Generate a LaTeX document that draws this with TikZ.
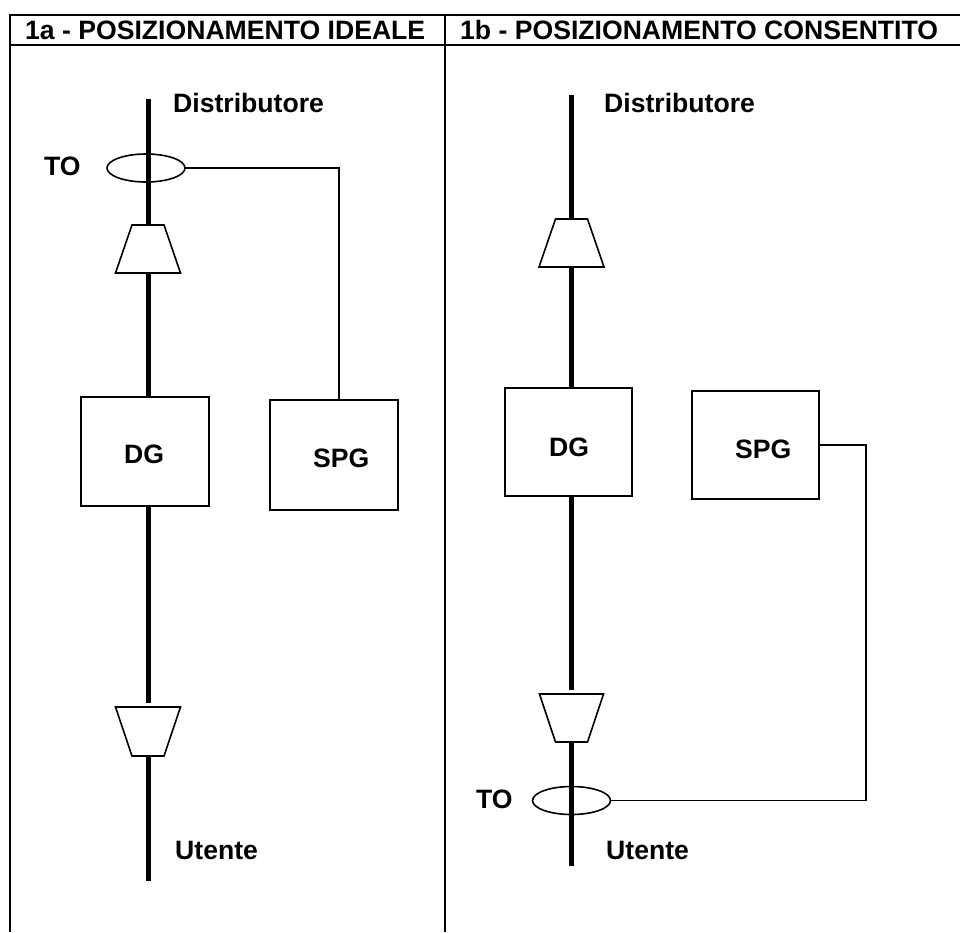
\documentclass[tikz,border=0pt]{standalone}
\usepackage{fontspec}
\setmainfont{Liberation Sans}
\usetikzlibrary{shapes.geometric}
\tikzset{
  rule/.style={line width=2pt,line cap=butt},
  bus/.style={line width=5pt},
  wire/.style={line width=1.6pt},
  blockbox/.style={draw,line width=2pt,fill=white,inner sep=0pt,outer sep=0pt},
  ring/.style={draw,ellipse,line width=1.6pt,inner sep=0pt,outer sep=0pt,minimum width=78pt,minimum height=28pt},
  trap/.style={draw,fill=white,line width=1.6pt,line join=miter},
  head/.style={anchor=base west,inner sep=0pt,font=\bfseries\fontsize{26.6}{27}\selectfont},
  lab/.style={anchor=base west,inner sep=0pt,font=\bfseries\fontsize{26.6}{27}\selectfont}
}
\begin{document}
\begin{tikzpicture}[x=1pt,y=-1pt]
\useasboundingbox (0,0) rectangle (960,932);
% table
\coordinate (tl) at (10,14.5); \coordinate (tr) at (960,14.5);
\coordinate (ml) at (10,45); \coordinate (mr) at (960,45);
\coordinate (bl) at (10,932); \coordinate (mt) at (445,14.5); \coordinate (mb) at (445,932);
\draw[rule] (9,14.5) -- (tr);
\draw[rule] (ml) -- (mr);
\draw[rule] (tl) -- (bl);
\draw[rule] (mt) -- (mb);
\node[head] (h1) at (25,39) {1a - POSIZIONAMENTO IDEALE};
\node[head] (h2) at (460,39) {1b - POSIZIONAMENTO CONSENTITO};
% left panel
\coordinate (as) at (148,99); \coordinate (ae) at (148,881);
\coordinate (atun) at (148,225); \coordinate (atus) at (148,273);
\coordinate (atdn) at (148,703); \coordinate (atds) at (148,756);
\node[ring] (ato) at (146,168) {};
\node[blockbox,minimum width=128pt,minimum height=109pt] (adg) at (145,451.5) {};
\node[blockbox,minimum width=128pt,minimum height=110pt] (aspg) at (334,455) {};
\draw[bus] (as) -- (atun);
\draw[bus] (atus) -- (atus |- adg.north);
\draw[bus] (atdn |- adg.south) -- (atdn);
\draw[bus] (atds) -- (ae);
\draw[trap] (132,225) -- (164,225) -- (180.5,273) -- (115.5,273) -- cycle;
\draw[trap] (115.5,707) -- (180.5,707) -- (164,756) -- (132,756) -- cycle;
\draw[wire] (ato.east) -- (339,168) -- (339,400);
\node[lab] (adist) at (173,112) {Distributore};
\node[lab] (atol) at (44,175) {TO};
\node[lab] (adgl) at (124,463) {DG};
\node[lab] (aspgl) at (313,467) {SPG};
\node[lab] (aut) at (175,859) {Utente};
% right panel
\coordinate (bs) at (571.5,95); \coordinate (be) at (571.5,866);
\coordinate (btun) at (571.5,219); \coordinate (btus) at (571.5,267);
\coordinate (btdn) at (571.5,690); \coordinate (btds) at (571.5,742);
\node[ring] (bto) at (571.5,800.5) {};
\node[blockbox,minimum width=127pt,minimum height=108pt] (bdg) at (568.5,442) {};
\node[blockbox,minimum width=127pt,minimum height=108pt] (bspg) at (755.5,445) {};
\draw[bus] (bs) -- (btun);
\draw[bus] (btus) -- (btus |- bdg.north);
\draw[bus] (btdn |- bdg.south) -- (btdn);
\draw[bus] (btds) -- (be);
\draw[trap] (555.5,219) -- (587.5,219) -- (604,267) -- (539,267) -- cycle;
\draw[trap] (539.5,694) -- (603.5,694) -- (587.5,742) -- (555.5,742) -- cycle;
\draw[wire] (bto.east) -- (866,800.5) -- (866,445) -- (bspg.east);
\node[lab] (bdist) at (604,112) {Distributore};
\node[lab] (btol) at (476,808) {TO};
\node[lab] (bdgl) at (549,456) {DG};
\node[lab] (bspgl) at (735,458) {SPG};
\node[lab] (but) at (606,859) {Utente};
\end{tikzpicture}
\end{document}
